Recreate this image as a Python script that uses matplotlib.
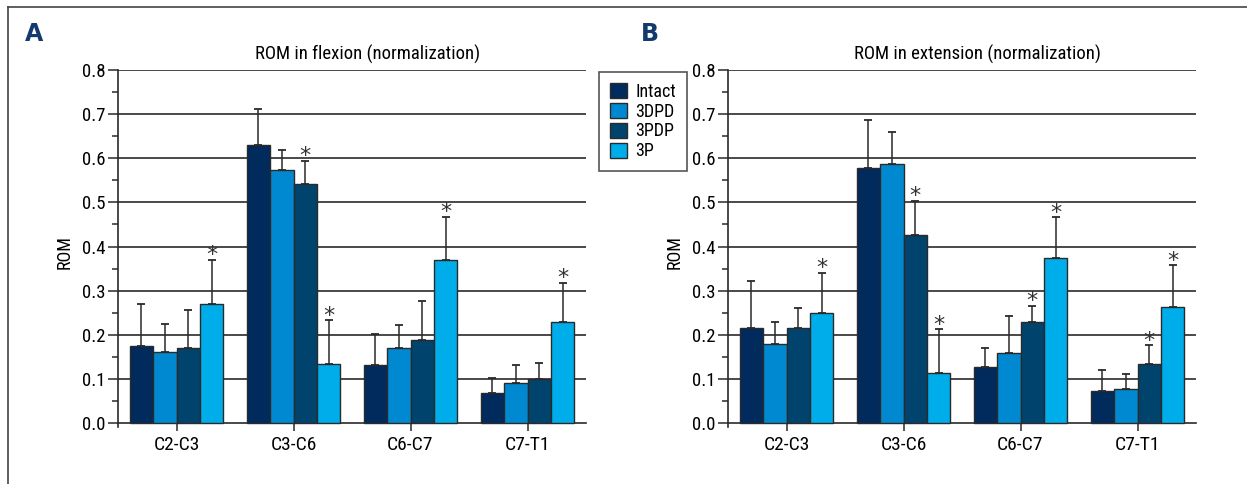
import os
import matplotlib
matplotlib.use("Agg")
import matplotlib.pyplot as plt
import numpy as np
from matplotlib.lines import Line2D
from matplotlib.patches import Patch
from matplotlib import font_manager
from matplotlib.font_manager import FontProperties

categories = ["C2-C3", "C3-C6", "C6-C7", "C7-T1"]
groups = ["Intact", "3DPD", "3PDP", "3P"]
colors = ["#002b5c", "#0089d0", "#00446e", "#00adeb"]

# Panel A: ROM in flexion (bar heights, upper error-bar ends, significance)
flex_mean = {
    "Intact": [0.174, 0.629, 0.132, 0.067],
    "3DPD":   [0.162, 0.574, 0.169, 0.091],
    "3PDP":   [0.170, 0.541, 0.189, 0.100],
    "3P":     [0.270, 0.133, 0.369, 0.228],
}
flex_top = {
    "Intact": [0.269, 0.711, 0.201, 0.101],
    "3DPD":   [0.224, 0.618, 0.223, 0.131],
    "3PDP":   [0.256, 0.594, 0.276, 0.136],
    "3P":     [0.370, 0.233, 0.467, 0.318],
}
flex_star = {
    "Intact": [False, False, False, False],
    "3DPD":   [False, False, False, False],
    "3PDP":   [False, True, False, False],
    "3P":     [True, True, True, True],
}

# Panel B: ROM in extension
ext_mean = {
    "Intact": [0.216, 0.578, 0.128, 0.073],
    "3DPD":   [0.179, 0.587, 0.159, 0.077],
    "3PDP":   [0.216, 0.426, 0.228, 0.134],
    "3P":     [0.249, 0.114, 0.375, 0.263],
}
ext_top = {
    "Intact": [0.321, 0.686, 0.169, 0.120],
    "3DPD":   [0.230, 0.659, 0.243, 0.111],
    "3PDP":   [0.260, 0.503, 0.266, 0.176],
    "3P":     [0.341, 0.212, 0.466, 0.357],
}
ext_star = {
    "Intact": [False, False, False, False],
    "3DPD":   [False, False, False, False],
    "3PDP":   [False, True, True, True],
    "3P":     [True, True, True, True],
}

yticks = [0.0, 0.1, 0.2, 0.3, 0.4, 0.5, 0.6, 0.7, 0.8]

# ---- pick a condensed font if one is installed ----
def find_condensed():
    prefs = ["robotocondensed", "opensans_condensed", "opensanscondensed",
             "liberationsansnarrow", "dejavusanscondensed", "notosanscondensed"]
    found = []
    for f in font_manager.fontManager.ttflist:
        n = f.name.lower()
        fn = os.path.basename(f.fname).lower()
        cond = ("condensed" in n or "narrow" in n or "condensed" in fn
                or "narrow" in fn or str(f.stretch) in ("condensed", "semi-condensed"))
        if not cond:
            continue
        if f.style != "normal":
            continue
        w = f.weight
        if isinstance(w, str):
            ok = w in ("normal", "regular", "book")
        else:
            ok = 350 <= w <= 450
        if not ok or "bold" in fn or "light" in fn or "semi" in fn.replace("semicondensed", "") or "italic" in fn:
            continue
        key = fn.replace("-", "").replace(" ", "")
        rank = len(prefs)
        for i, p in enumerate(prefs):
            if p in key:
                rank = i
                break
        found.append((rank, f.fname))
    if found:
        found.sort()
        return found[0][1]
    return None

cpath = find_condensed()
if cpath:
    def FP(size):
        return FontProperties(fname=cpath, size=size)
    scale = 1.0
else:
    def FP(size):
        return FontProperties(family="Roboto", size=size)
    scale = 0.9

fig = plt.figure(figsize=(12.47, 4.84), dpi=100)
W, H = 1247.0, 484.0


def draw(ax, means, tops, stars, title):
    x = np.arange(len(categories)) + 0.5
    w = 0.2
    for i, g in enumerate(groups):
        pos = x - 0.4 + w * (i + 0.5)
        m = np.array(means[g])
        t = np.array(tops[g])
        ax.bar(pos, m, width=w, color=colors[i], edgecolor="#2a2a2a",
               linewidth=1.0, zorder=3)
        ax.errorbar(pos, m, yerr=[np.zeros_like(m), t - m], fmt="none",
                    ecolor="#2a2a2a", elinewidth=1.1, capsize=3.0,
                    capthick=1.3, zorder=2)
        for j in range(len(categories)):
            if stars[g][j]:
                ax.annotate("*", xy=(pos[j], t[j]), xytext=(0, -1.0),
                            textcoords="offset points", ha="center",
                            va="baseline", fontsize=16, color="#333333",
                            family="DejaVu Sans", zorder=4)
    ax.set_xlim(0, 4)
    ax.set_ylim(-0.009, 0.8)
    ax.spines["bottom"].set_position(("data", 0))
    ax.set_yticks(yticks)
    ax.set_yticklabels([f"{v:.1f}" for v in yticks], fontproperties=FP(13.5 * scale))
    ax.set_yticks(np.arange(0.05, 0.8, 0.1), minor=True)
    ax.set_xticks(x)
    ax.set_xticklabels(categories, fontproperties=FP(14 * scale))
    ax.tick_params(axis="y", which="major", length=7, width=1.1, direction="out",
                   pad=2, color="#2a2a2a")
    ax.tick_params(axis="y", which="minor", length=4, width=1.1, direction="out",
                   color="#2a2a2a")
    ax.tick_params(axis="x", length=6, width=1.1, direction="out", pad=3,
                   color="#2a2a2a")
    for v in yticks[1:]:
        ax.axhline(v, color="#3a3a3a", linewidth=1.3, zorder=1)
    ax.spines["top"].set_visible(False)
    ax.spines["right"].set_visible(False)
    ax.spines["left"].set_linewidth(1.2)
    ax.spines["bottom"].set_linewidth(1.2)
    ax.spines["left"].set_color("#2a2a2a")
    ax.spines["bottom"].set_color("#2a2a2a")
    ax.set_ylabel("ROM", fontproperties=FP(13 * scale))
    ax.yaxis.set_label_coords(-0.095, 0.49)
    ax.text(0.533, 1.045, title, transform=ax.transAxes, ha="center",
            va="center", fontproperties=FP(13.5 * scale))


bottom = 1 - 427 / H
height = (427 - 70) / H
axA = fig.add_axes([118 / W, bottom, 468 / W, height])
axB = fig.add_axes([728 / W, bottom, 468 / W, height])
draw(axA, flex_mean, flex_top, flex_star, "ROM in flexion (normalization)")
draw(axB, ext_mean, ext_top, ext_star, "ROM in extension (normalization)")

fig.text(34 / W, 1 - 34 / H, "A", fontsize=17, fontweight="bold",
         color="#123a6e", ha="center", va="center", family="DejaVu Sans")
fig.text(650 / W, 1 - 34 / H, "B", fontsize=17, fontweight="bold",
         color="#123a6e", ha="center", va="center", family="DejaVu Sans")

handles = [Patch(facecolor=c, edgecolor="#2a2a2a", linewidth=1.0) for c in colors]
leg = fig.legend(handles, groups, loc="upper left",
                 bbox_to_anchor=(599 / W, 1 - 72 / H), prop=FP(13 * scale),
                 frameon=True, fancybox=False, edgecolor="#2a2a2a",
                 handlelength=0.95, handleheight=0.9, handletextpad=0.45,
                 labelspacing=0.1, borderpad=0.6, borderaxespad=0)
leg.get_frame().set_linewidth(1.2)

# outer frame (top and left edges)
fig.add_artist(Line2D([8 / W, 1.0], [1 - 7 / H, 1 - 7 / H],
                      color="#444444", linewidth=1.2, transform=fig.transFigure))
fig.add_artist(Line2D([8 / W, 8 / W], [0.0, 1 - 7 / H],
                      color="#444444", linewidth=1.2, transform=fig.transFigure))

fig.savefig("out.png", dpi=100)
